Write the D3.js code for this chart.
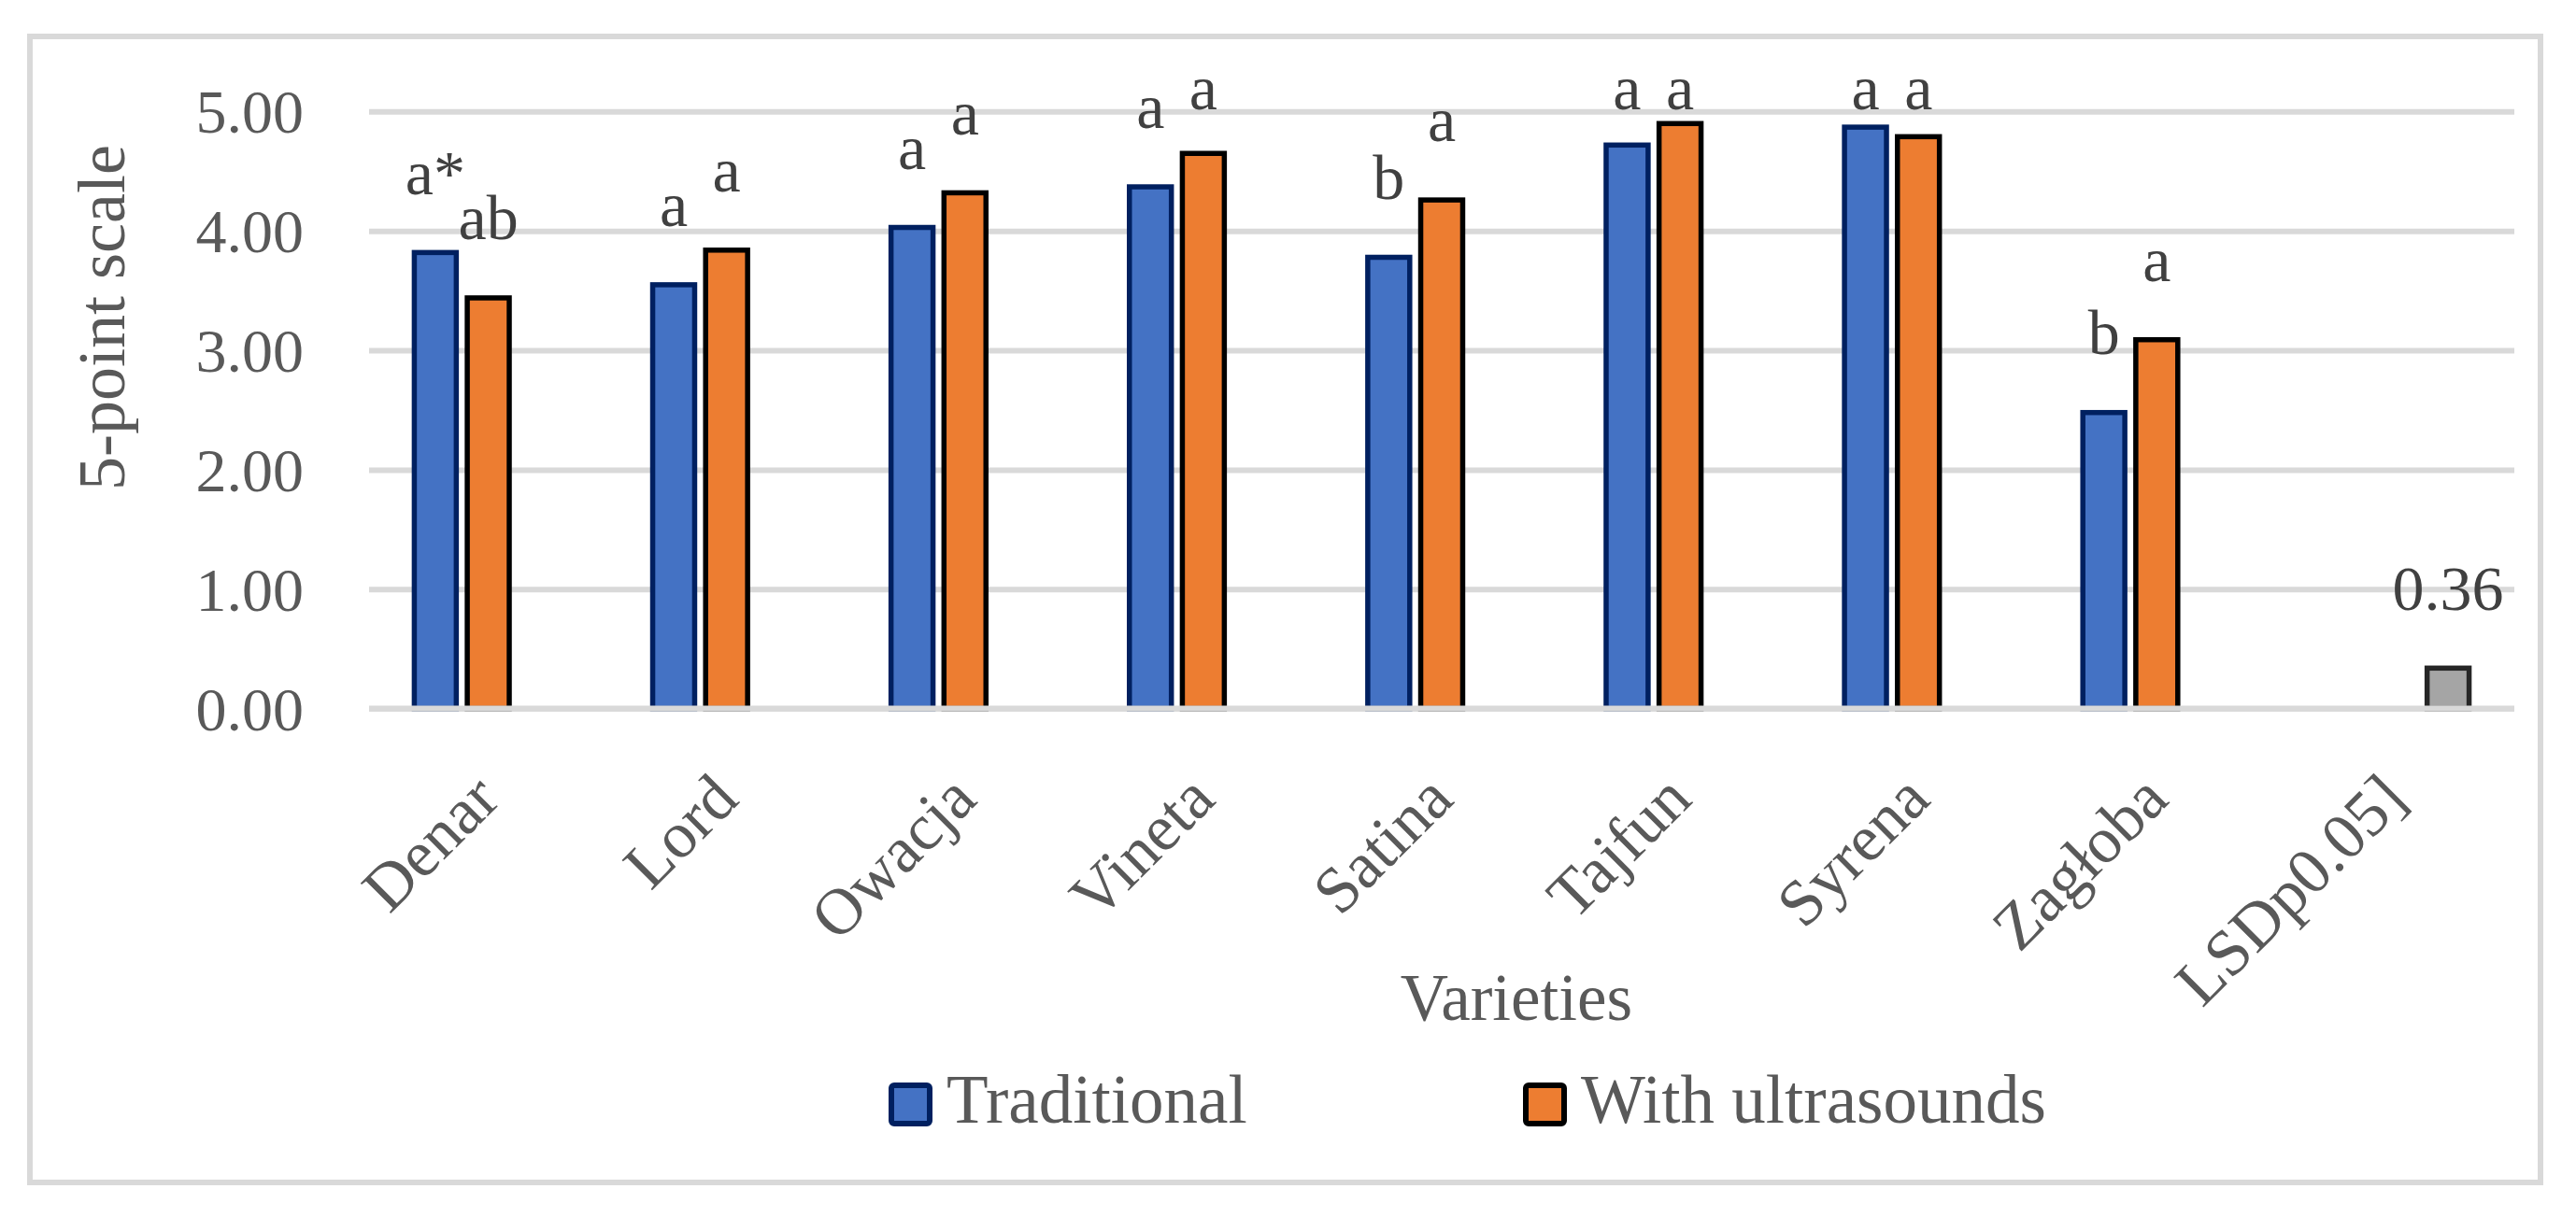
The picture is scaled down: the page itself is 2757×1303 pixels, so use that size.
<!DOCTYPE html>
<html>
<head>
<meta charset="utf-8">
<script src="https://d3js.org/d3.v7.min.js"></script>
<style>
  body { margin: 0; background: #fff; }
  text { font-family: "Liberation Serif", "Times New Roman", serif; }
</style>
</head>
<body>
<script>
// data
var categories = ["Denar", "Lord", "Owacja", "Vineta", "Satina", "Tajfun", "Syrena", "Zagłoba", "LSDp0.05]"];
var seriesNames = ["Traditional", "With ultrasounds", "LSD"];
var traditional = [3.84, 3.57, 4.05, 4.39, 3.80, 4.74, 4.89, 2.50, null];
var ultrasounds = [3.46, 3.86, 4.34, 4.67, 4.28, 4.92, 4.81, 3.11, null];
var lsd = [null, null, null, null, null, null, null, null, 0.36];
var traditionalLabels = ["a*", "a", "a", "a", "b", "a", "a", "b", ""];
var ultrasoundsLabels = ["ab", "a", "a", "a", "a", "a", "a", "a", ""];
var lsdLabels = ["", "", "", "", "", "", "", "", "0.36"];
var yTicks = [0, 1, 2, 3, 4, 5];

var width = 2757, height = 1303;
var plotLeft = 395, plotRight = 2691, plotTop = 119.3, plotBottom = 758.6;

var svg = d3.select("body").append("svg")
  .attr("width", width)
  .attr("height", height);

// chart border
svg.append("rect")
  .attr("x", 32).attr("y", 39)
  .attr("width", 2687).attr("height", 1227)
  .attr("fill", "none")
  .attr("stroke", "#d9d9d9")
  .attr("stroke-width", 6);

var y = d3.scaleLinear().domain([0, 5]).range([plotBottom, plotTop]);
var x0 = d3.scaleBand().domain(categories).range([plotLeft, plotRight]);
var x1 = d3.scaleBand().domain(seriesNames).range([-85, 85])
  .paddingInner(0.11).paddingOuter(0.055);

var styles = {
  "Traditional": { fill: "#4472c4", stroke: "#002060" },
  "With ultrasounds": { fill: "#ed7d31", stroke: "#000000" },
  "LSD": { fill: "#a5a5a5", stroke: "#262626" }
};

// gridlines
var grid = svg.append("g")
  .attr("transform", "translate(" + plotLeft + ",0)")
  .call(d3.axisLeft(y).tickValues(yTicks).tickSize(-(plotRight - plotLeft)).tickFormat(""));
grid.select(".domain").remove();
grid.selectAll("line").attr("stroke", "#d9d9d9").attr("stroke-width", 6);

// y tick labels
var yAxis = svg.append("g")
  .attr("transform", "translate(" + plotLeft + ",0)")
  .call(d3.axisLeft(y).tickValues(yTicks).tickSize(0).tickPadding(70).tickFormat(d3.format(".2f")));
yAxis.select(".domain").remove();
yAxis.selectAll("text")
  .attr("dy", "0.34em")
  .attr("fill", "#595959")
  .style("font-size", "66px");

// bars
var series = [
  { name: "Traditional", values: traditional, labels: traditionalLabels },
  { name: "With ultrasounds", values: ultrasounds, labels: ultrasoundsLabels },
  { name: "LSD", values: lsd, labels: lsdLabels }
];

var sw = 5.5;
series.forEach(function(s) {
  var pts = categories.map(function(c, i) {
    return { cat: c, v: s.values[i], label: s.labels[i] };
  }).filter(function(d) { return d.v !== null; });

  svg.append("g").selectAll("rect")
    .data(pts)
    .enter().append("rect")
    .attr("x", function(d) { return x0(d.cat) + x0.bandwidth() / 2 + x1(s.name) + sw / 2; })
    .attr("y", function(d) { return y(d.v) + sw / 2; })
    .attr("width", x1.bandwidth() - sw)
    .attr("height", function(d) { return y(0) - y(d.v) - sw / 2; })
    .attr("fill", styles[s.name].fill)
    .attr("stroke", styles[s.name].stroke)
    .attr("stroke-width", sw);

  svg.append("g").selectAll("text")
    .data(pts)
    .enter().append("text")
    .attr("x", function(d) { return x0(d.cat) + x0.bandwidth() / 2 + x1(s.name) + x1.bandwidth() / 2; })
    .attr("y", function(d) { return Math.max(y(d.v) - 60, 117); })
    .attr("text-anchor", "middle")
    .attr("fill", "#404040")
    .style("font-size", "68px")
    .text(function(d) { return d.label; });
});

// zero line over the bar bottoms
svg.append("line")
  .attr("x1", plotLeft).attr("x2", plotRight)
  .attr("y1", y(0)).attr("y2", y(0))
  .attr("stroke", "#d9d9d9").attr("stroke-width", 6);

// category labels
var xAxis = svg.append("g")
  .attr("transform", "translate(0," + plotBottom + ")")
  .call(d3.axisBottom(x0).tickSize(0));
xAxis.select(".domain").remove();
xAxis.selectAll("text")
  .attr("x", 0).attr("y", 0).attr("dy", 0)
  .attr("transform", "translate(15,100) rotate(-45)")
  .attr("text-anchor", "end")
  .attr("fill", "#595959")
  .style("font-size", "70px");

// axis titles
svg.append("text")
  .attr("transform", "translate(133,340) rotate(-90)")
  .attr("text-anchor", "middle")
  .attr("fill", "#595959")
  .style("font-size", "72px")
  .text("5-point scale");

svg.append("text")
  .attr("x", 1623).attr("y", 1092)
  .attr("text-anchor", "middle")
  .attr("fill", "#595959")
  .style("font-size", "71px")
  .text("Varieties");

// legend
var legendItems = [
  { name: "Traditional", x: 951 },
  { name: "With ultrasounds", x: 1630 }
];
var lg = svg.append("g").selectAll("g")
  .data(legendItems)
  .enter().append("g");
lg.append("rect")
  .attr("x", function(d) { return d.x + 3; })
  .attr("y", 1162)
  .attr("width", 41).attr("height", 41)
  .attr("rx", 3)
  .attr("fill", function(d) { return styles[d.name].fill; })
  .attr("stroke", function(d) { return styles[d.name].stroke; })
  .attr("stroke-width", 6);
lg.append("text")
  .attr("x", function(d) { return d.x + 62; })
  .attr("y", 1202)
  .attr("fill", "#595959")
  .style("font-size", "73px")
  .text(function(d) { return d.name; });
</script>
</body>
</html>
